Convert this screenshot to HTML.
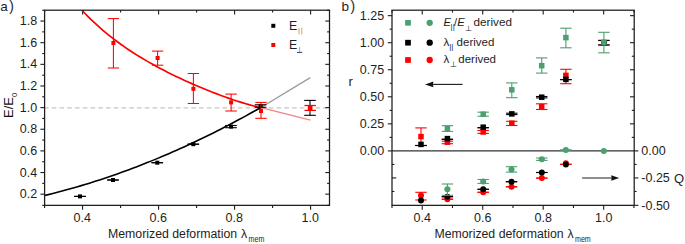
<!DOCTYPE html>
<html><head><meta charset="utf-8"><style>
html,body{margin:0;padding:0;background:#fff;width:685px;height:244px;overflow:hidden}
svg{display:block;font-family:"Liberation Sans", sans-serif}
</style></head><body>
<svg width="685" height="244" viewBox="0 0 685 244">
<rect width="685" height="244" fill="#fff"/>
<line x1="44.60" y1="107.85" x2="329.50" y2="107.85" stroke="#c6c6c6" stroke-width="1.4" stroke-dasharray="4.6 3.153" stroke-dashoffset="0.6"/>
<line x1="44.60" y1="205.35" x2="44.60" y2="208.05" stroke="#1c1c1c" stroke-width="1.1" />
<line x1="44.60" y1="10.20" x2="44.60" y2="12.60" stroke="#1c1c1c" stroke-width="1.1" />
<line x1="82.60" y1="205.35" x2="82.60" y2="209.85" stroke="#1c1c1c" stroke-width="1.1" />
<line x1="82.60" y1="10.20" x2="82.60" y2="14.40" stroke="#1c1c1c" stroke-width="1.1" />
<line x1="120.60" y1="205.35" x2="120.60" y2="208.05" stroke="#1c1c1c" stroke-width="1.1" />
<line x1="120.60" y1="10.20" x2="120.60" y2="12.60" stroke="#1c1c1c" stroke-width="1.1" />
<line x1="158.60" y1="205.35" x2="158.60" y2="209.85" stroke="#1c1c1c" stroke-width="1.1" />
<line x1="158.60" y1="10.20" x2="158.60" y2="14.40" stroke="#1c1c1c" stroke-width="1.1" />
<line x1="196.60" y1="205.35" x2="196.60" y2="208.05" stroke="#1c1c1c" stroke-width="1.1" />
<line x1="196.60" y1="10.20" x2="196.60" y2="12.60" stroke="#1c1c1c" stroke-width="1.1" />
<line x1="234.60" y1="205.35" x2="234.60" y2="209.85" stroke="#1c1c1c" stroke-width="1.1" />
<line x1="234.60" y1="10.20" x2="234.60" y2="14.40" stroke="#1c1c1c" stroke-width="1.1" />
<line x1="272.60" y1="205.35" x2="272.60" y2="208.05" stroke="#1c1c1c" stroke-width="1.1" />
<line x1="272.60" y1="10.20" x2="272.60" y2="12.60" stroke="#1c1c1c" stroke-width="1.1" />
<line x1="310.60" y1="205.35" x2="310.60" y2="209.85" stroke="#1c1c1c" stroke-width="1.1" />
<line x1="310.60" y1="10.20" x2="310.60" y2="14.40" stroke="#1c1c1c" stroke-width="1.1" />
<line x1="42.20" y1="205.35" x2="44.60" y2="205.35" stroke="#1c1c1c" stroke-width="1.1" />
<line x1="329.50" y1="205.35" x2="327.10" y2="205.35" stroke="#1c1c1c" stroke-width="1.1" />
<line x1="40.40" y1="194.18" x2="44.60" y2="194.18" stroke="#1c1c1c" stroke-width="1.1" />
<line x1="329.50" y1="194.18" x2="325.30" y2="194.18" stroke="#1c1c1c" stroke-width="1.1" />
<line x1="42.20" y1="183.36" x2="44.60" y2="183.36" stroke="#1c1c1c" stroke-width="1.1" />
<line x1="329.50" y1="183.36" x2="327.10" y2="183.36" stroke="#1c1c1c" stroke-width="1.1" />
<line x1="40.40" y1="172.54" x2="44.60" y2="172.54" stroke="#1c1c1c" stroke-width="1.1" />
<line x1="329.50" y1="172.54" x2="325.30" y2="172.54" stroke="#1c1c1c" stroke-width="1.1" />
<line x1="42.20" y1="161.72" x2="44.60" y2="161.72" stroke="#1c1c1c" stroke-width="1.1" />
<line x1="329.50" y1="161.72" x2="327.10" y2="161.72" stroke="#1c1c1c" stroke-width="1.1" />
<line x1="40.40" y1="150.90" x2="44.60" y2="150.90" stroke="#1c1c1c" stroke-width="1.1" />
<line x1="329.50" y1="150.90" x2="325.30" y2="150.90" stroke="#1c1c1c" stroke-width="1.1" />
<line x1="42.20" y1="140.08" x2="44.60" y2="140.08" stroke="#1c1c1c" stroke-width="1.1" />
<line x1="329.50" y1="140.08" x2="327.10" y2="140.08" stroke="#1c1c1c" stroke-width="1.1" />
<line x1="40.40" y1="129.26" x2="44.60" y2="129.26" stroke="#1c1c1c" stroke-width="1.1" />
<line x1="329.50" y1="129.26" x2="325.30" y2="129.26" stroke="#1c1c1c" stroke-width="1.1" />
<line x1="42.20" y1="118.44" x2="44.60" y2="118.44" stroke="#1c1c1c" stroke-width="1.1" />
<line x1="329.50" y1="118.44" x2="327.10" y2="118.44" stroke="#1c1c1c" stroke-width="1.1" />
<line x1="40.40" y1="107.62" x2="44.60" y2="107.62" stroke="#1c1c1c" stroke-width="1.1" />
<line x1="329.50" y1="107.62" x2="325.30" y2="107.62" stroke="#1c1c1c" stroke-width="1.1" />
<line x1="42.20" y1="96.80" x2="44.60" y2="96.80" stroke="#1c1c1c" stroke-width="1.1" />
<line x1="329.50" y1="96.80" x2="327.10" y2="96.80" stroke="#1c1c1c" stroke-width="1.1" />
<line x1="40.40" y1="85.98" x2="44.60" y2="85.98" stroke="#1c1c1c" stroke-width="1.1" />
<line x1="329.50" y1="85.98" x2="325.30" y2="85.98" stroke="#1c1c1c" stroke-width="1.1" />
<line x1="42.20" y1="75.16" x2="44.60" y2="75.16" stroke="#1c1c1c" stroke-width="1.1" />
<line x1="329.50" y1="75.16" x2="327.10" y2="75.16" stroke="#1c1c1c" stroke-width="1.1" />
<line x1="40.40" y1="64.34" x2="44.60" y2="64.34" stroke="#1c1c1c" stroke-width="1.1" />
<line x1="329.50" y1="64.34" x2="325.30" y2="64.34" stroke="#1c1c1c" stroke-width="1.1" />
<line x1="42.20" y1="53.52" x2="44.60" y2="53.52" stroke="#1c1c1c" stroke-width="1.1" />
<line x1="329.50" y1="53.52" x2="327.10" y2="53.52" stroke="#1c1c1c" stroke-width="1.1" />
<line x1="40.40" y1="42.70" x2="44.60" y2="42.70" stroke="#1c1c1c" stroke-width="1.1" />
<line x1="329.50" y1="42.70" x2="325.30" y2="42.70" stroke="#1c1c1c" stroke-width="1.1" />
<line x1="42.20" y1="31.88" x2="44.60" y2="31.88" stroke="#1c1c1c" stroke-width="1.1" />
<line x1="329.50" y1="31.88" x2="327.10" y2="31.88" stroke="#1c1c1c" stroke-width="1.1" />
<line x1="40.40" y1="21.06" x2="44.60" y2="21.06" stroke="#1c1c1c" stroke-width="1.1" />
<line x1="329.50" y1="21.06" x2="325.30" y2="21.06" stroke="#1c1c1c" stroke-width="1.1" />
<line x1="42.20" y1="10.24" x2="44.60" y2="10.24" stroke="#1c1c1c" stroke-width="1.1" />
<line x1="329.50" y1="10.24" x2="327.10" y2="10.24" stroke="#1c1c1c" stroke-width="1.1" />
<text x="82.30" y="222.30" font-size="12.5" text-anchor="middle" fill="#1e1e1e" >0.4</text>
<text x="158.30" y="222.30" font-size="12.5" text-anchor="middle" fill="#1e1e1e" >0.6</text>
<text x="234.30" y="222.30" font-size="12.5" text-anchor="middle" fill="#1e1e1e" >0.8</text>
<text x="310.30" y="222.30" font-size="12.5" text-anchor="middle" fill="#1e1e1e" >1.0</text>
<text x="37.20" y="198.28" font-size="12.5" text-anchor="end" fill="#1e1e1e" >0.2</text>
<text x="37.20" y="176.64" font-size="12.5" text-anchor="end" fill="#1e1e1e" >0.4</text>
<text x="37.20" y="155.00" font-size="12.5" text-anchor="end" fill="#1e1e1e" >0.6</text>
<text x="37.20" y="133.36" font-size="12.5" text-anchor="end" fill="#1e1e1e" >0.8</text>
<text x="37.20" y="111.72" font-size="12.5" text-anchor="end" fill="#1e1e1e" >1.0</text>
<text x="37.20" y="90.08" font-size="12.5" text-anchor="end" fill="#1e1e1e" >1.2</text>
<text x="37.20" y="68.44" font-size="12.5" text-anchor="end" fill="#1e1e1e" >1.4</text>
<text x="37.20" y="46.80" font-size="12.5" text-anchor="end" fill="#1e1e1e" >1.6</text>
<text x="37.20" y="25.16" font-size="12.5" text-anchor="end" fill="#1e1e1e" >1.8</text>
<polyline points="44.60,195.55 48.27,194.65 51.94,193.73 55.60,192.79 59.27,191.83 62.94,190.85 66.61,189.84 70.27,188.82 73.94,187.78 77.61,186.72 81.28,185.63 84.95,184.53 88.61,183.40 92.28,182.25 95.95,181.09 99.62,179.90 103.28,178.69 106.95,177.47 110.62,176.22 114.29,174.95 117.96,173.66 121.62,172.35 125.29,171.02 128.96,169.67 132.63,168.29 136.29,166.90 139.96,165.49 143.63,164.06 147.30,162.60 150.97,161.13 154.63,159.63 158.30,158.12 161.97,156.58 165.64,155.02 169.31,153.45 172.97,151.85 176.64,150.23 180.31,148.59 183.98,146.93 187.64,145.25 191.31,143.55 194.98,141.83 198.65,140.09 202.32,138.33 205.98,136.54 209.65,134.74 213.32,132.92 216.99,131.07 220.65,129.21 224.32,127.32 227.99,125.41 231.66,123.49 235.33,121.54 238.99,119.57 242.66,117.59 246.33,115.58 250.00,113.55 253.66,111.50 257.33,109.43 261.00,107.53" fill="none" stroke="#000" stroke-width="1.6" stroke-linejoin="round"/>
<polyline points="82.00,10.32 85.03,13.49 88.07,16.57 91.10,19.54 94.14,22.42 97.17,25.21 100.20,27.92 103.24,30.54 106.27,33.08 109.31,35.55 112.34,37.94 115.37,40.27 118.41,42.53 121.44,44.72 124.47,46.86 127.51,48.94 130.54,50.97 133.58,52.94 136.61,54.87 139.64,56.75 142.68,58.59 145.71,60.38 148.75,62.13 151.78,63.85 154.81,65.53 157.85,67.18 160.88,68.79 163.92,70.37 166.95,71.92 169.98,73.44 173.02,74.94 176.05,76.41 179.08,77.85 182.12,79.27 185.15,80.67 188.19,82.04 191.22,83.39 194.25,84.72 197.29,86.02 200.32,87.31 203.36,88.57 206.39,89.81 209.42,91.03 212.46,92.23 215.49,93.40 218.53,94.55 221.56,95.68 224.59,96.78 227.63,97.86 230.66,98.91 233.69,99.94 236.73,100.94 239.76,101.90 242.80,102.84 245.83,103.74 248.86,104.61 251.90,105.45 254.93,106.24 257.97,107.00 261.00,107.53" fill="none" stroke="#ff0000" stroke-width="1.7" stroke-linejoin="round"/>
<line x1="261.00" y1="107.53" x2="310.30" y2="77.70" stroke="#9c9c9c" stroke-width="1.35" />
<line x1="261.00" y1="107.53" x2="310.50" y2="120.20" stroke="#f28484" stroke-width="1.3" />
<line x1="80.00" y1="196.40" x2="80.00" y2="196.40" stroke="#000" stroke-width="1.1" />
<line x1="74.20" y1="196.40" x2="85.80" y2="196.40" stroke="#000" stroke-width="1.1" />
<line x1="74.20" y1="196.40" x2="85.80" y2="196.40" stroke="#000" stroke-width="1.1" />
<rect x="78.00" y="194.40" width="4" height="4" fill="#000"/>
<line x1="113.00" y1="180.00" x2="113.00" y2="180.00" stroke="#000" stroke-width="1.1" />
<line x1="107.20" y1="180.00" x2="118.80" y2="180.00" stroke="#000" stroke-width="1.1" />
<line x1="107.20" y1="180.00" x2="118.80" y2="180.00" stroke="#000" stroke-width="1.1" />
<rect x="111.00" y="178.00" width="4" height="4" fill="#000"/>
<line x1="157.30" y1="162.70" x2="157.30" y2="162.70" stroke="#000" stroke-width="1.1" />
<line x1="151.50" y1="162.70" x2="163.10" y2="162.70" stroke="#000" stroke-width="1.1" />
<line x1="151.50" y1="162.70" x2="163.10" y2="162.70" stroke="#000" stroke-width="1.1" />
<rect x="155.30" y="160.70" width="4" height="4" fill="#000"/>
<line x1="193.30" y1="144.20" x2="193.30" y2="144.20" stroke="#000" stroke-width="1.1" />
<line x1="187.50" y1="144.20" x2="199.10" y2="144.20" stroke="#000" stroke-width="1.1" />
<line x1="187.50" y1="144.20" x2="199.10" y2="144.20" stroke="#000" stroke-width="1.1" />
<rect x="191.30" y="142.20" width="4" height="4" fill="#000"/>
<line x1="231.00" y1="125.50" x2="231.00" y2="127.70" stroke="#000" stroke-width="1.1" />
<line x1="225.20" y1="125.50" x2="236.80" y2="125.50" stroke="#000" stroke-width="1.1" />
<line x1="225.20" y1="127.70" x2="236.80" y2="127.70" stroke="#000" stroke-width="1.1" />
<rect x="229.00" y="124.60" width="4" height="4" fill="#000"/>
<line x1="260.60" y1="104.80" x2="260.60" y2="107.30" stroke="#000" stroke-width="1.1" />
<line x1="254.80" y1="104.80" x2="266.40" y2="104.80" stroke="#000" stroke-width="1.1" />
<line x1="254.80" y1="107.30" x2="266.40" y2="107.30" stroke="#000" stroke-width="1.1" />
<rect x="258.60" y="104.00" width="4" height="4" fill="#000"/>
<line x1="310.00" y1="100.40" x2="310.00" y2="115.30" stroke="#000" stroke-width="1.1" />
<line x1="304.20" y1="100.40" x2="315.80" y2="100.40" stroke="#000" stroke-width="1.1" />
<line x1="304.20" y1="115.30" x2="315.80" y2="115.30" stroke="#000" stroke-width="1.1" />
<rect x="308.00" y="105.70" width="4" height="4" fill="#000"/>
<line x1="113.40" y1="18.60" x2="113.40" y2="68.00" stroke="#ff0000" stroke-width="1.05" />
<line x1="107.70" y1="18.60" x2="119.10" y2="18.60" stroke="#ff0000" stroke-width="1.05" />
<line x1="107.70" y1="68.00" x2="119.10" y2="68.00" stroke="#ff0000" stroke-width="1.05" />
<rect x="111.40" y="41.00" width="4" height="4" fill="#ff0000"/>
<line x1="157.60" y1="51.10" x2="157.60" y2="65.20" stroke="#ff0000" stroke-width="1.05" />
<line x1="151.90" y1="51.10" x2="163.30" y2="51.10" stroke="#ff0000" stroke-width="1.05" />
<line x1="151.90" y1="65.20" x2="163.30" y2="65.20" stroke="#ff0000" stroke-width="1.05" />
<rect x="155.60" y="56.00" width="4" height="4" fill="#ff0000"/>
<line x1="193.40" y1="73.50" x2="193.40" y2="103.50" stroke="#ff0000" stroke-width="1.05" />
<line x1="187.70" y1="73.50" x2="199.10" y2="73.50" stroke="#ff0000" stroke-width="1.05" />
<line x1="187.70" y1="103.50" x2="199.10" y2="103.50" stroke="#ff0000" stroke-width="1.05" />
<rect x="191.40" y="86.80" width="4" height="4" fill="#ff0000"/>
<line x1="231.10" y1="94.10" x2="231.10" y2="111.00" stroke="#ff0000" stroke-width="1.05" />
<line x1="225.40" y1="94.10" x2="236.80" y2="94.10" stroke="#ff0000" stroke-width="1.05" />
<line x1="225.40" y1="111.00" x2="236.80" y2="111.00" stroke="#ff0000" stroke-width="1.05" />
<rect x="229.10" y="100.40" width="4" height="4" fill="#ff0000"/>
<line x1="261.00" y1="102.40" x2="261.00" y2="118.30" stroke="#ff0000" stroke-width="1.05" />
<line x1="255.30" y1="102.40" x2="266.70" y2="102.40" stroke="#ff0000" stroke-width="1.05" />
<line x1="255.30" y1="118.30" x2="266.70" y2="118.30" stroke="#ff0000" stroke-width="1.05" />
<rect x="259.00" y="109.00" width="4" height="4" fill="#ff0000"/>
<line x1="310.20" y1="105.50" x2="310.20" y2="110.40" stroke="#ff0000" stroke-width="1.25" />
<line x1="304.50" y1="105.50" x2="315.90" y2="105.50" stroke="#ff0000" stroke-width="1.25" />
<line x1="304.50" y1="110.40" x2="315.90" y2="110.40" stroke="#ff0000" stroke-width="1.25" />
<rect x="307.90" y="105.50" width="4.6" height="4.6" fill="#ff0000"/>
<rect x="44.6" y="10.2" width="284.9" height="195.15" fill="none" stroke="#1c1c1c" stroke-width="1.25"/>
<rect x="271.30" y="23.80" width="4" height="4" fill="#000"/>
<rect x="271.30" y="43.00" width="4" height="4" fill="#ff0000"/>
<text x="289.10" y="30.00" font-size="12.3" text-anchor="start" fill="#1e1e1e" >E</text>
<line x1="299.00" y1="27.80" x2="299.00" y2="34.40" stroke="#c2a86e" stroke-width="1.0" />
<line x1="301.80" y1="27.80" x2="301.80" y2="34.40" stroke="#c2a86e" stroke-width="1.0" />
<text x="289.10" y="48.90" font-size="12.3" text-anchor="start" fill="#1e1e1e" >E</text>
<line x1="299.60" y1="47.00" x2="299.60" y2="52.30" stroke="#9aa88c" stroke-width="0.9" />
<line x1="297.00" y1="52.40" x2="302.30" y2="52.40" stroke="#3a3a4a" stroke-width="1.0" />
<text x="0.20" y="10.80" font-size="13.5" text-anchor="start" fill="#1e1e1e" >a</text>
<text x="9.20" y="10.80" font-size="13.8" text-anchor="start" fill="#1e1e1e" >)</text>
<text x="0" y="0" font-size="13" fill="#111" transform="translate(13.0,118.0) rotate(-90)">E/E<tspan font-size="7.8" dy="3.9">0</tspan></text>
<text x="108.00" y="238.10" font-size="12.3" text-anchor="start" fill="#1e1e1e" >Memorized deformation</text>
<text x="241.00" y="238.10" font-size="12.3" text-anchor="start" fill="#1e1e1e" >&#955;</text>
<text x="248.60" y="242.1" font-size="8.8" fill="#1e1e1e" textLength="15.8" lengthAdjust="spacingAndGlyphs">mem</text>
<line x1="392.00" y1="205.35" x2="392.00" y2="208.05" stroke="#1c1c1c" stroke-width="1.1" />
<line x1="392.00" y1="10.20" x2="392.00" y2="12.60" stroke="#1c1c1c" stroke-width="1.1" />
<line x1="422.24" y1="205.35" x2="422.24" y2="209.85" stroke="#1c1c1c" stroke-width="1.1" />
<line x1="422.24" y1="10.20" x2="422.24" y2="14.40" stroke="#1c1c1c" stroke-width="1.1" />
<line x1="452.48" y1="205.35" x2="452.48" y2="208.05" stroke="#1c1c1c" stroke-width="1.1" />
<line x1="452.48" y1="10.20" x2="452.48" y2="12.60" stroke="#1c1c1c" stroke-width="1.1" />
<line x1="482.72" y1="205.35" x2="482.72" y2="209.85" stroke="#1c1c1c" stroke-width="1.1" />
<line x1="482.72" y1="10.20" x2="482.72" y2="14.40" stroke="#1c1c1c" stroke-width="1.1" />
<line x1="512.96" y1="205.35" x2="512.96" y2="208.05" stroke="#1c1c1c" stroke-width="1.1" />
<line x1="512.96" y1="10.20" x2="512.96" y2="12.60" stroke="#1c1c1c" stroke-width="1.1" />
<line x1="543.20" y1="205.35" x2="543.20" y2="209.85" stroke="#1c1c1c" stroke-width="1.1" />
<line x1="543.20" y1="10.20" x2="543.20" y2="14.40" stroke="#1c1c1c" stroke-width="1.1" />
<line x1="573.44" y1="205.35" x2="573.44" y2="208.05" stroke="#1c1c1c" stroke-width="1.1" />
<line x1="573.44" y1="10.20" x2="573.44" y2="12.60" stroke="#1c1c1c" stroke-width="1.1" />
<line x1="603.68" y1="205.35" x2="603.68" y2="209.85" stroke="#1c1c1c" stroke-width="1.1" />
<line x1="603.68" y1="10.20" x2="603.68" y2="14.40" stroke="#1c1c1c" stroke-width="1.1" />
<line x1="633.92" y1="205.35" x2="633.92" y2="208.05" stroke="#1c1c1c" stroke-width="1.1" />
<line x1="633.92" y1="10.20" x2="633.92" y2="12.60" stroke="#1c1c1c" stroke-width="1.1" />
<text x="422.24" y="222.20" font-size="12.5" text-anchor="middle" fill="#1e1e1e" >0.4</text>
<text x="482.72" y="222.20" font-size="12.5" text-anchor="middle" fill="#1e1e1e" >0.6</text>
<text x="543.20" y="222.20" font-size="12.5" text-anchor="middle" fill="#1e1e1e" >0.8</text>
<text x="603.68" y="222.20" font-size="12.5" text-anchor="middle" fill="#1e1e1e" >1.0</text>
<line x1="387.80" y1="150.90" x2="392.00" y2="150.90" stroke="#1c1c1c" stroke-width="1.1" />
<line x1="389.60" y1="137.38" x2="392.00" y2="137.38" stroke="#1c1c1c" stroke-width="1.1" />
<line x1="634.20" y1="137.38" x2="631.80" y2="137.38" stroke="#1c1c1c" stroke-width="1.1" />
<line x1="387.80" y1="123.85" x2="392.00" y2="123.85" stroke="#1c1c1c" stroke-width="1.1" />
<line x1="634.20" y1="123.85" x2="630.00" y2="123.85" stroke="#1c1c1c" stroke-width="1.1" />
<line x1="389.60" y1="110.33" x2="392.00" y2="110.33" stroke="#1c1c1c" stroke-width="1.1" />
<line x1="634.20" y1="110.33" x2="631.80" y2="110.33" stroke="#1c1c1c" stroke-width="1.1" />
<line x1="387.80" y1="96.80" x2="392.00" y2="96.80" stroke="#1c1c1c" stroke-width="1.1" />
<line x1="634.20" y1="96.80" x2="630.00" y2="96.80" stroke="#1c1c1c" stroke-width="1.1" />
<line x1="389.60" y1="83.28" x2="392.00" y2="83.28" stroke="#1c1c1c" stroke-width="1.1" />
<line x1="634.20" y1="83.28" x2="631.80" y2="83.28" stroke="#1c1c1c" stroke-width="1.1" />
<line x1="387.80" y1="69.75" x2="392.00" y2="69.75" stroke="#1c1c1c" stroke-width="1.1" />
<line x1="634.20" y1="69.75" x2="630.00" y2="69.75" stroke="#1c1c1c" stroke-width="1.1" />
<line x1="389.60" y1="56.23" x2="392.00" y2="56.23" stroke="#1c1c1c" stroke-width="1.1" />
<line x1="634.20" y1="56.23" x2="631.80" y2="56.23" stroke="#1c1c1c" stroke-width="1.1" />
<line x1="387.80" y1="42.70" x2="392.00" y2="42.70" stroke="#1c1c1c" stroke-width="1.1" />
<line x1="634.20" y1="42.70" x2="630.00" y2="42.70" stroke="#1c1c1c" stroke-width="1.1" />
<line x1="389.60" y1="29.17" x2="392.00" y2="29.17" stroke="#1c1c1c" stroke-width="1.1" />
<line x1="634.20" y1="29.17" x2="631.80" y2="29.17" stroke="#1c1c1c" stroke-width="1.1" />
<line x1="387.80" y1="15.65" x2="392.00" y2="15.65" stroke="#1c1c1c" stroke-width="1.1" />
<line x1="634.20" y1="15.65" x2="630.00" y2="15.65" stroke="#1c1c1c" stroke-width="1.1" />
<text x="384.20" y="155.40" font-size="12.5" text-anchor="end" fill="#1e1e1e" >0.00</text>
<text x="384.20" y="128.35" font-size="12.5" text-anchor="end" fill="#1e1e1e" >0.25</text>
<text x="384.20" y="101.30" font-size="12.5" text-anchor="end" fill="#1e1e1e" >0.50</text>
<text x="384.20" y="74.25" font-size="12.5" text-anchor="end" fill="#1e1e1e" >0.75</text>
<text x="384.20" y="47.20" font-size="12.5" text-anchor="end" fill="#1e1e1e" >1.00</text>
<text x="384.20" y="20.15" font-size="12.5" text-anchor="end" fill="#1e1e1e" >1.25</text>
<line x1="634.20" y1="150.90" x2="638.40" y2="150.90" stroke="#1c1c1c" stroke-width="1.1" />
<line x1="634.20" y1="164.43" x2="636.60" y2="164.43" stroke="#1c1c1c" stroke-width="1.1" />
<line x1="392.00" y1="164.43" x2="394.40" y2="164.43" stroke="#1c1c1c" stroke-width="1.1" />
<line x1="634.20" y1="177.95" x2="638.40" y2="177.95" stroke="#1c1c1c" stroke-width="1.1" />
<line x1="392.00" y1="177.95" x2="396.20" y2="177.95" stroke="#1c1c1c" stroke-width="1.1" />
<line x1="634.20" y1="191.48" x2="636.60" y2="191.48" stroke="#1c1c1c" stroke-width="1.1" />
<line x1="392.00" y1="191.48" x2="394.40" y2="191.48" stroke="#1c1c1c" stroke-width="1.1" />
<line x1="634.20" y1="205.35" x2="638.40" y2="205.35" stroke="#1c1c1c" stroke-width="1.1" />
<text x="641.30" y="155.40" font-size="12.5" text-anchor="start" fill="#1e1e1e" >0.00</text>
<text x="641.30" y="182.45" font-size="12.5" text-anchor="start" fill="#1e1e1e" >-0.25</text>
<text x="641.30" y="209.50" font-size="12.5" text-anchor="start" fill="#1e1e1e" >-0.50</text>
<text x="674.00" y="182.55" font-size="13" text-anchor="start" fill="#1e1e1e" >Q</text>
<text x="348.50" y="85.50" font-size="13" text-anchor="start" fill="#1e1e1e" >r</text>
<line x1="392.00" y1="150.90" x2="634.20" y2="150.90" stroke="#333" stroke-width="1.1" />
<line x1="433.00" y1="84.40" x2="462.60" y2="84.40" stroke="#262626" stroke-width="1.15" />
<polygon points="425,84.4 433.4,81.5 432.9,84.4 433.4,87.3" fill="#111"/>
<line x1="582.10" y1="178.00" x2="612.00" y2="178.00" stroke="#3c3c3c" stroke-width="1.15" />
<polygon points="619.2,178.0 611.1,175.2 611.7,178.0 611.1,180.8" fill="#111"/>
<line x1="421.00" y1="127.90" x2="421.00" y2="145.50" stroke="#ff0000" stroke-width="1.1" />
<line x1="415.30" y1="127.90" x2="426.70" y2="127.90" stroke="#ff0000" stroke-width="1.1" />
<line x1="415.30" y1="145.50" x2="426.70" y2="145.50" stroke="#ff0000" stroke-width="1.1" />
<rect x="418.25" y="133.85" width="5.5" height="5.5" fill="#ff0000"/>
<line x1="421.00" y1="145.50" x2="421.00" y2="145.50" stroke="#000" stroke-width="1.1" />
<line x1="415.30" y1="145.50" x2="426.70" y2="145.50" stroke="#000" stroke-width="1.1" />
<line x1="415.30" y1="145.50" x2="426.70" y2="145.50" stroke="#000" stroke-width="1.1" />
<rect x="418.25" y="141.65" width="5.5" height="5.5" fill="#000"/>
<line x1="447.40" y1="141.20" x2="447.40" y2="143.70" stroke="#ff0000" stroke-width="1.1" />
<line x1="441.70" y1="141.20" x2="453.10" y2="141.20" stroke="#ff0000" stroke-width="1.1" />
<line x1="441.70" y1="143.70" x2="453.10" y2="143.70" stroke="#ff0000" stroke-width="1.1" />
<rect x="444.65" y="139.45" width="5.5" height="5.5" fill="#ff0000"/>
<line x1="447.40" y1="139.30" x2="447.40" y2="139.30" stroke="#000" stroke-width="1.1" />
<line x1="441.70" y1="139.30" x2="453.10" y2="139.30" stroke="#000" stroke-width="1.1" />
<line x1="441.70" y1="139.30" x2="453.10" y2="139.30" stroke="#000" stroke-width="1.1" />
<rect x="444.65" y="135.85" width="5.5" height="5.5" fill="#000"/>
<line x1="447.40" y1="125.70" x2="447.40" y2="131.40" stroke="#4c9f6e" stroke-width="1.1" />
<line x1="441.70" y1="125.70" x2="453.10" y2="125.70" stroke="#4c9f6e" stroke-width="1.1" />
<line x1="441.70" y1="131.40" x2="453.10" y2="131.40" stroke="#4c9f6e" stroke-width="1.1" />
<rect x="444.65" y="125.75" width="5.5" height="5.5" fill="#4c9f6e"/>
<line x1="483.20" y1="130.50" x2="483.20" y2="133.40" stroke="#ff0000" stroke-width="1.1" />
<line x1="477.50" y1="130.50" x2="488.90" y2="130.50" stroke="#ff0000" stroke-width="1.1" />
<line x1="477.50" y1="133.40" x2="488.90" y2="133.40" stroke="#ff0000" stroke-width="1.1" />
<rect x="480.45" y="129.25" width="5.5" height="5.5" fill="#ff0000"/>
<line x1="483.20" y1="127.70" x2="483.20" y2="127.70" stroke="#000" stroke-width="1.1" />
<line x1="477.50" y1="127.70" x2="488.90" y2="127.70" stroke="#000" stroke-width="1.1" />
<line x1="477.50" y1="127.70" x2="488.90" y2="127.70" stroke="#000" stroke-width="1.1" />
<rect x="480.45" y="124.45" width="5.5" height="5.5" fill="#000"/>
<line x1="483.20" y1="112.20" x2="483.20" y2="116.20" stroke="#4c9f6e" stroke-width="1.1" />
<line x1="477.50" y1="112.20" x2="488.90" y2="112.20" stroke="#4c9f6e" stroke-width="1.1" />
<line x1="477.50" y1="116.20" x2="488.90" y2="116.20" stroke="#4c9f6e" stroke-width="1.1" />
<rect x="480.45" y="111.45" width="5.5" height="5.5" fill="#4c9f6e"/>
<line x1="511.80" y1="121.30" x2="511.80" y2="125.50" stroke="#ff0000" stroke-width="1.1" />
<line x1="506.10" y1="121.30" x2="517.50" y2="121.30" stroke="#ff0000" stroke-width="1.1" />
<line x1="506.10" y1="125.50" x2="517.50" y2="125.50" stroke="#ff0000" stroke-width="1.1" />
<rect x="509.05" y="120.45" width="5.5" height="5.5" fill="#ff0000"/>
<line x1="511.80" y1="113.20" x2="511.80" y2="114.60" stroke="#000" stroke-width="1.1" />
<line x1="506.10" y1="113.20" x2="517.50" y2="113.20" stroke="#000" stroke-width="1.1" />
<line x1="506.10" y1="114.60" x2="517.50" y2="114.60" stroke="#000" stroke-width="1.1" />
<rect x="509.05" y="111.15" width="5.5" height="5.5" fill="#000"/>
<line x1="511.80" y1="82.90" x2="511.80" y2="97.70" stroke="#4c9f6e" stroke-width="1.1" />
<line x1="506.10" y1="82.90" x2="517.50" y2="82.90" stroke="#4c9f6e" stroke-width="1.1" />
<line x1="506.10" y1="97.70" x2="517.50" y2="97.70" stroke="#4c9f6e" stroke-width="1.1" />
<rect x="509.05" y="87.05" width="5.5" height="5.5" fill="#4c9f6e"/>
<line x1="541.70" y1="103.80" x2="541.70" y2="109.50" stroke="#ff0000" stroke-width="1.1" />
<line x1="536.00" y1="103.80" x2="547.40" y2="103.80" stroke="#ff0000" stroke-width="1.1" />
<line x1="536.00" y1="109.50" x2="547.40" y2="109.50" stroke="#ff0000" stroke-width="1.1" />
<rect x="538.95" y="103.95" width="5.5" height="5.5" fill="#ff0000"/>
<line x1="541.70" y1="96.50" x2="541.70" y2="97.90" stroke="#000" stroke-width="1.1" />
<line x1="536.00" y1="96.50" x2="547.40" y2="96.50" stroke="#000" stroke-width="1.1" />
<line x1="536.00" y1="97.90" x2="547.40" y2="97.90" stroke="#000" stroke-width="1.1" />
<rect x="538.95" y="94.45" width="5.5" height="5.5" fill="#000"/>
<line x1="541.70" y1="57.90" x2="541.70" y2="73.10" stroke="#4c9f6e" stroke-width="1.1" />
<line x1="536.00" y1="57.90" x2="547.40" y2="57.90" stroke="#4c9f6e" stroke-width="1.1" />
<line x1="536.00" y1="73.10" x2="547.40" y2="73.10" stroke="#4c9f6e" stroke-width="1.1" />
<rect x="538.95" y="62.95" width="5.5" height="5.5" fill="#4c9f6e"/>
<line x1="565.90" y1="69.30" x2="565.90" y2="83.70" stroke="#ff0000" stroke-width="1.1" />
<line x1="560.20" y1="69.30" x2="571.60" y2="69.30" stroke="#ff0000" stroke-width="1.1" />
<line x1="560.20" y1="83.70" x2="571.60" y2="83.70" stroke="#ff0000" stroke-width="1.1" />
<rect x="563.15" y="72.65" width="5.5" height="5.5" fill="#ff0000"/>
<line x1="565.90" y1="79.60" x2="565.90" y2="79.60" stroke="#000" stroke-width="1.1" />
<line x1="560.20" y1="79.60" x2="571.60" y2="79.60" stroke="#000" stroke-width="1.1" />
<line x1="560.20" y1="79.60" x2="571.60" y2="79.60" stroke="#000" stroke-width="1.1" />
<rect x="563.15" y="76.65" width="5.5" height="5.5" fill="#000"/>
<line x1="565.90" y1="28.20" x2="565.90" y2="47.80" stroke="#4c9f6e" stroke-width="1.1" />
<line x1="560.20" y1="28.20" x2="571.60" y2="28.20" stroke="#4c9f6e" stroke-width="1.1" />
<line x1="560.20" y1="47.80" x2="571.60" y2="47.80" stroke="#4c9f6e" stroke-width="1.1" />
<rect x="563.15" y="34.85" width="5.5" height="5.5" fill="#4c9f6e"/>
<line x1="603.90" y1="40.30" x2="603.90" y2="45.10" stroke="#ff0000" stroke-width="1.1" />
<line x1="598.20" y1="40.30" x2="609.60" y2="40.30" stroke="#ff0000" stroke-width="1.1" />
<line x1="598.20" y1="45.10" x2="609.60" y2="45.10" stroke="#ff0000" stroke-width="1.1" />
<rect x="601.15" y="39.85" width="5.5" height="5.5" fill="#ff0000"/>
<line x1="603.90" y1="40.50" x2="603.90" y2="44.90" stroke="#000" stroke-width="1.1" />
<line x1="598.20" y1="40.50" x2="609.60" y2="40.50" stroke="#000" stroke-width="1.1" />
<line x1="598.20" y1="44.90" x2="609.60" y2="44.90" stroke="#000" stroke-width="1.1" />
<rect x="601.15" y="39.95" width="5.5" height="5.5" fill="#000"/>
<line x1="603.90" y1="32.30" x2="603.90" y2="52.80" stroke="#4c9f6e" stroke-width="1.1" />
<line x1="598.20" y1="32.30" x2="609.60" y2="32.30" stroke="#4c9f6e" stroke-width="1.1" />
<line x1="598.20" y1="52.80" x2="609.60" y2="52.80" stroke="#4c9f6e" stroke-width="1.1" />
<rect x="601.15" y="39.75" width="5.5" height="5.5" fill="#4c9f6e"/>
<line x1="421.00" y1="192.30" x2="421.00" y2="200.00" stroke="#ff0000" stroke-width="1.1" />
<line x1="415.30" y1="192.30" x2="426.70" y2="192.30" stroke="#ff0000" stroke-width="1.1" />
<line x1="415.30" y1="200.00" x2="426.70" y2="200.00" stroke="#ff0000" stroke-width="1.1" />
<circle cx="421.00" cy="195.40" r="3.0" fill="#ff0000"/>
<circle cx="421.00" cy="200.60" r="3.0" fill="#000"/>
<line x1="447.40" y1="199.20" x2="447.40" y2="199.20" stroke="#ff0000" stroke-width="1.1" />
<line x1="441.70" y1="199.20" x2="453.10" y2="199.20" stroke="#ff0000" stroke-width="1.1" />
<line x1="441.70" y1="199.20" x2="453.10" y2="199.20" stroke="#ff0000" stroke-width="1.1" />
<circle cx="447.40" cy="199.20" r="3.0" fill="#ff0000"/>
<line x1="447.40" y1="196.70" x2="447.40" y2="196.70" stroke="#000" stroke-width="1.1" />
<line x1="441.70" y1="196.70" x2="453.10" y2="196.70" stroke="#000" stroke-width="1.1" />
<line x1="441.70" y1="196.70" x2="453.10" y2="196.70" stroke="#000" stroke-width="1.1" />
<circle cx="447.40" cy="196.80" r="3.0" fill="#000"/>
<line x1="447.40" y1="184.00" x2="447.40" y2="195.30" stroke="#4c9f6e" stroke-width="1.1" />
<line x1="441.70" y1="184.00" x2="453.10" y2="184.00" stroke="#4c9f6e" stroke-width="1.1" />
<line x1="441.70" y1="195.30" x2="453.10" y2="195.30" stroke="#4c9f6e" stroke-width="1.1" />
<circle cx="447.40" cy="189.30" r="3.0" fill="#4c9f6e"/>
<line x1="483.20" y1="192.30" x2="483.20" y2="192.30" stroke="#ff0000" stroke-width="1.1" />
<line x1="477.50" y1="192.30" x2="488.90" y2="192.30" stroke="#ff0000" stroke-width="1.1" />
<line x1="477.50" y1="192.30" x2="488.90" y2="192.30" stroke="#ff0000" stroke-width="1.1" />
<circle cx="483.20" cy="192.30" r="3.0" fill="#ff0000"/>
<line x1="483.20" y1="189.30" x2="483.20" y2="189.30" stroke="#000" stroke-width="1.1" />
<line x1="477.50" y1="189.30" x2="488.90" y2="189.30" stroke="#000" stroke-width="1.1" />
<line x1="477.50" y1="189.30" x2="488.90" y2="189.30" stroke="#000" stroke-width="1.1" />
<circle cx="483.20" cy="189.30" r="3.0" fill="#000"/>
<line x1="483.20" y1="179.50" x2="483.20" y2="183.40" stroke="#4c9f6e" stroke-width="1.1" />
<line x1="477.50" y1="179.50" x2="488.90" y2="179.50" stroke="#4c9f6e" stroke-width="1.1" />
<line x1="477.50" y1="183.40" x2="488.90" y2="183.40" stroke="#4c9f6e" stroke-width="1.1" />
<circle cx="483.20" cy="181.50" r="3.0" fill="#4c9f6e"/>
<line x1="511.50" y1="186.80" x2="511.50" y2="186.80" stroke="#ff0000" stroke-width="1.1" />
<line x1="505.80" y1="186.80" x2="517.20" y2="186.80" stroke="#ff0000" stroke-width="1.1" />
<line x1="505.80" y1="186.80" x2="517.20" y2="186.80" stroke="#ff0000" stroke-width="1.1" />
<circle cx="511.50" cy="186.80" r="3.0" fill="#ff0000"/>
<line x1="511.50" y1="181.70" x2="511.50" y2="181.70" stroke="#000" stroke-width="1.1" />
<line x1="505.80" y1="181.70" x2="517.20" y2="181.70" stroke="#000" stroke-width="1.1" />
<line x1="505.80" y1="181.70" x2="517.20" y2="181.70" stroke="#000" stroke-width="1.1" />
<circle cx="511.50" cy="181.70" r="3.0" fill="#000"/>
<line x1="511.50" y1="166.70" x2="511.50" y2="172.10" stroke="#4c9f6e" stroke-width="1.1" />
<line x1="505.80" y1="166.70" x2="517.20" y2="166.70" stroke="#4c9f6e" stroke-width="1.1" />
<line x1="505.80" y1="172.10" x2="517.20" y2="172.10" stroke="#4c9f6e" stroke-width="1.1" />
<circle cx="511.50" cy="169.40" r="3.0" fill="#4c9f6e"/>
<line x1="541.80" y1="178.10" x2="541.80" y2="178.10" stroke="#ff0000" stroke-width="1.1" />
<line x1="536.10" y1="178.10" x2="547.50" y2="178.10" stroke="#ff0000" stroke-width="1.1" />
<line x1="536.10" y1="178.10" x2="547.50" y2="178.10" stroke="#ff0000" stroke-width="1.1" />
<circle cx="541.80" cy="178.10" r="3.0" fill="#ff0000"/>
<line x1="541.80" y1="172.50" x2="541.80" y2="172.50" stroke="#000" stroke-width="1.1" />
<line x1="536.10" y1="172.50" x2="547.50" y2="172.50" stroke="#000" stroke-width="1.1" />
<line x1="536.10" y1="172.50" x2="547.50" y2="172.50" stroke="#000" stroke-width="1.1" />
<circle cx="541.80" cy="172.50" r="3.0" fill="#000"/>
<line x1="541.80" y1="158.00" x2="541.80" y2="160.40" stroke="#4c9f6e" stroke-width="1.1" />
<line x1="536.10" y1="158.00" x2="547.50" y2="158.00" stroke="#4c9f6e" stroke-width="1.1" />
<line x1="536.10" y1="160.40" x2="547.50" y2="160.40" stroke="#4c9f6e" stroke-width="1.1" />
<circle cx="541.80" cy="159.20" r="3.0" fill="#4c9f6e"/>
<line x1="565.90" y1="164.30" x2="565.90" y2="164.30" stroke="#ff0000" stroke-width="1.1" />
<line x1="560.20" y1="164.30" x2="571.60" y2="164.30" stroke="#ff0000" stroke-width="1.1" />
<line x1="560.20" y1="164.30" x2="571.60" y2="164.30" stroke="#ff0000" stroke-width="1.1" />
<circle cx="565.90" cy="163.20" r="3.0" fill="#ff0000"/>
<circle cx="565.90" cy="164.40" r="3.0" fill="#000"/>
<line x1="565.90" y1="150.00" x2="565.90" y2="150.00" stroke="#4c9f6e" stroke-width="1.1" />
<line x1="560.20" y1="150.00" x2="571.60" y2="150.00" stroke="#4c9f6e" stroke-width="1.1" />
<line x1="560.20" y1="150.00" x2="571.60" y2="150.00" stroke="#4c9f6e" stroke-width="1.1" />
<circle cx="565.90" cy="150.00" r="3.0" fill="#4c9f6e"/>
<circle cx="603.80" cy="151.00" r="3.0" fill="#4c9f6e"/>
<rect x="392.0" y="10.2" width="242.20000000000005" height="195.15" fill="none" stroke="#1c1c1c" stroke-width="1.25"/>
<rect x="405.15" y="19.95" width="5.7" height="5.7" fill="#4c9f6e"/>
<circle cx="429.70" cy="22.80" r="3.15" fill="#4c9f6e"/>
<rect x="405.15" y="39.85" width="5.7" height="5.7" fill="#000"/>
<circle cx="429.70" cy="42.70" r="3.15" fill="#000"/>
<rect x="405.15" y="57.15" width="5.7" height="5.7" fill="#ff0000"/>
<circle cx="429.70" cy="60.00" r="3.15" fill="#ff0000"/>
<text x="443.60" y="26.00" font-size="11.2" text-anchor="start" fill="#1e1e1e" font-style="italic">E</text>
<text x="450.60" y="29.20" font-size="8" text-anchor="start" fill="#1e1e1e" >||</text>
<text x="454.00" y="26.00" font-size="11.2" text-anchor="start" fill="#1e1e1e" >/</text>
<text x="457.20" y="26.00" font-size="11.2" text-anchor="start" fill="#1e1e1e" font-style="italic">E</text>
<text x="464.90" y="31.00" font-size="8" text-anchor="start" fill="#1e1e1e" >&#8869;</text>
<text x="473.60" y="26.00" font-size="11.7" text-anchor="start" fill="#1e1e1e" >derived</text>
<text x="443.50" y="45.80" font-size="11.5" text-anchor="start" fill="#1e1e1e" >&#955;<tspan font-size="8" dy="3.5">||</tspan><tspan dy="-3.5"> derived</tspan></text>
<text x="443.50" y="62.60" font-size="11.5" text-anchor="start" fill="#1e1e1e" >&#955;</text>
<text x="449.80" y="66.60" font-size="8" text-anchor="start" fill="#1e1e1e" >&#8869;</text>
<text x="458.30" y="62.60" font-size="11.5" text-anchor="start" fill="#1e1e1e" >derived</text>
<text x="341.40" y="10.80" font-size="13.5" text-anchor="start" fill="#1e1e1e" >b</text>
<text x="350.60" y="10.80" font-size="13.8" text-anchor="start" fill="#1e1e1e" >)</text>
<text x="434.40" y="238.10" font-size="12.3" text-anchor="start" fill="#1e1e1e" >Memorized deformation</text>
<text x="567.40" y="238.10" font-size="12.3" text-anchor="start" fill="#1e1e1e" >&#955;</text>
<text x="575.00" y="242.1" font-size="8.8" fill="#1e1e1e" textLength="15.8" lengthAdjust="spacingAndGlyphs">mem</text>
</svg>
</body></html>
